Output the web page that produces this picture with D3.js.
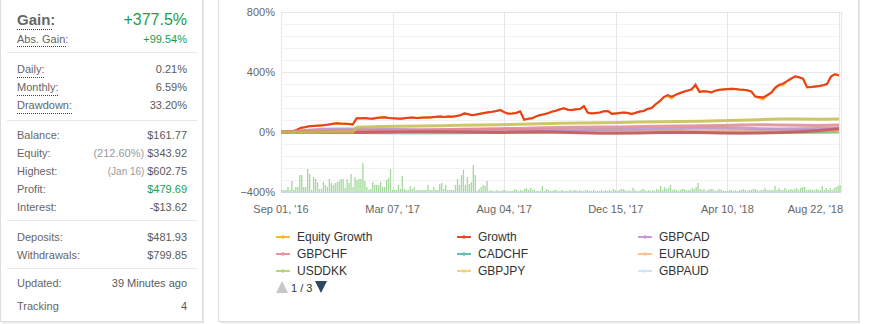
<!DOCTYPE html>
<html>
<head>
<meta charset="utf-8">
<script src="https://cdnjs.cloudflare.com/ajax/libs/d3/7.8.5/d3.min.js"></script>
<style>
  body { margin: 0; background: #fff; }
  svg { display: block; font-family: "Liberation Sans", Arial, sans-serif; }
</style>
</head>
<body>
<svg id="chart" width="869" height="324"></svg>
<script>
// x axis ticks, index of trading day
var xTickIdx = [0, 28, 56, 84, 112, 140];
var xTickLabels = ["Sep 01, '16", "Mar 07, '17", "Aug 04, '17", "Dec 15, '17", "Apr 10, '18", "Aug 22, '18"];
var yTicks = [-400, 0, 400, 800];
var yMinor = [-320, -240, -160, -80, 80, 160, 240, 320, 480, 560, 640, 720];

// growth in %, one value per trading day
var growth = [
  0, 0, 1, 3, 15, 28, 32, 38, 40, 42,
  44, 46, 50, 55, 58, 56, 55, 54, 50, 92,
  91, 93, 90, 89, 94, 96, 98, 94, 92, 90,
  88, 92, 95, 96, 93, 95, 97, 96, 99, 101,
  103, 100, 104, 102, 106, 112, 124, 118, 112, 116,
  122, 127, 131, 135, 140, 147, 132, 122, 124, 127,
  138, 82, 88, 91, 104, 113, 118, 126, 136, 142,
  152, 158, 148, 146, 151, 153, 172, 128, 124, 127,
  130, 138, 140, 121, 124, 127, 130, 127, 120, 128,
  136, 140, 154, 160, 185, 205, 232, 246, 236, 248,
  258, 268, 276, 284, 316, 268, 272, 270, 264, 276,
  281, 284, 286, 288, 286, 283, 281, 278, 270, 236,
  234, 231, 246, 262, 296, 314, 324, 340, 356, 372,
  365, 355, 298, 300, 303, 306, 312, 320, 370, 385,
  377.5
];
var equityGrowth = [
  0, 0, 1, 3, 12, 26, 32, 38, 40, 42,
  44, 46, 50, 55, 58, 56, 55, 54, 50, 92,
  91, 93, 90, 89, 94, 96, 98, 94, 92, 90,
  88, 92, 95, 96, 93, 95, 97, 96, 99, 101,
  103, 100, 104, 102, 106, 112, 124, 118, 112, 116,
  122, 127, 131, 135, 140, 147, 132, 122, 124, 127,
  138, 80, 88, 91, 104, 113, 118, 126, 136, 142,
  152, 158, 148, 146, 151, 153, 172, 128, 124, 127,
  130, 138, 140, 121, 124, 127, 130, 127, 120, 128,
  136, 140, 154, 160, 185, 205, 232, 240, 224, 248,
  258, 268, 276, 284, 308, 268, 272, 270, 264, 276,
  281, 284, 286, 288, 286, 283, 281, 278, 270, 236,
  226, 218, 246, 262, 290, 314, 313, 340, 356, 368,
  365, 355, 298, 300, 303, 306, 312, 320, 370, 385,
  377.5
];

// symbol growth, sampled on these days
var pairIdx = [0, 5, 10, 15, 18, 19, 25, 30, 35, 40, 45, 50, 55, 60, 65, 70, 75, 80, 85, 90, 95, 100, 105, 110, 115, 120, 125, 130, 135, 140];
var gbpcad = [0, 8, 18, 20, 20, 20, 18, 16, 14, 15, 16, 17, 18, 18, 16, 14, 15, 16, 18, 20, 22, 24, 27, 28, 26, 22, 20, 22, 24, 26];
var gbpchf = [0, 2, 5, 8, 9, 9, 10, 12, 14, 15, 18, 20, 22, 24, 28, 30, 32, 33, 34, 36, 38, 40, 42, 44, 46, 48, 47, 45, 44, 46];
var cadchf = [0, 1, 2, 3, 3, 3, 4, 3, 2, 1, 0, -1, 0, 1, 2, 3, 2, 1, 0, -1, -2, -1, 0, 1, 2, 1, 0, 1, 2, 3];
var euraud = [0, 0, 1, 2, 2, 2, 3, 4, 3, 2, 3, 4, 5, 4, 3, 2, 3, 4, 5, 6, 5, 4, 6, 8, 10, 12, 13, 12, 11, 12];
var usddkk = [0, 0, 0, -1, -1, -1, 0, 1, 0, -1, 0, 1, 0, -1, 0, 1, 0, -1, 0, 1, 0, -1, -2, -3, -4, -3, -2, -1, 0, 2];
var gbpjpy = [0, 0, 0, 0, 0, 32, 36, 38, 40, 42, 45, 47, 49, 51, 55, 58, 60, 62, 64, 66, 68, 70, 72, 75, 78, 82, 86, 86, 85, 86];
var gbpaud = [0, 0, -1, -2, -3, -4, -7, -9, -9, -8, -6, -4, -3, -2, -1, 0, -1, -2, -1, 0, 1, 0, -1, -2, -1, 0, 1, 0, -1, 0];
// a series from a later legend page
var pageTwoPair = [0, 0, -2, -3, -3, -3, -2, 0, 1, 2, 0, -2, -3, 0, 2, -2, -5, -8, -9, -6, -3, -2, -4, -6, -8, -7, -4, 2, 10, 22];

// trades per day (bars at the bottom)
var trades = [
  2, 2, 2, 5, 2, 11, 2, 5, 5, 17, 17, 5, 5, 23, 18, 2, 15, 13, 10, 3, 3, 10, 7, 5, 13, 9, 7, 9, 10, 11,
  13, 13, 4, 13, 9, 18, 5, 15, 12, 13, 13, 29, 11, 5, 2, 3, 10, 7, 7, 7, 10, 5, 5, 12, 14, 23, 2, 2, 2, 7,
  3, 16, 3, 2, 2, 6, 3, 5, 2, 2, 2, 2, 2, 2, 7, 2, 2, 5, 2, 2, 8, 9, 3, 7, 2, 2, 2, 2, 7, 13,
  7, 17, 22, 7, 15, 8,
  10, 27, 17, 1, 3, 5, 7, 6, 11, 1, 2, 1, 1, 2, 1, 1, 2, 2, 1, 1, 1, 1, 3, 2, 1, 2, 1, 3, 4, 2,
  4, 2, 2, 1, 1, 1, 6, 1, 3, 2, 1, 1, 2, 2, 1, 1, 2, 1, 1, 1, 2, 1, 2, 2, 1, 2, 1, 1, 2, 2,
  1, 1, 2, 1, 1, 1, 2, 1, 2, 1, 2, 1, 3, 2, 1, 2, 3, 3, 2, 1, 2, 1, 4, 2, 1, 1, 2, 3, 2, 1, 2,
  1, 2, 1, 3, 2, 6, 2, 5, 3, 4, 7, 2, 3, 2, 1, 2, 3, 3, 2, 2, 2, 4, 3, 5, 9, 3, 2, 3, 1, 2,
  3, 3, 2, 1, 2, 3, 2, 1, 1, 1, 2, 2, 1, 2, 1, 2, 2, 3, 2, 1, 2, 2, 3, 3, 2, 1, 2, 2, 4, 2,
  2, 2, 2, 6, 2, 4, 2, 2, 4, 2, 2, 3, 2, 3, 4, 2, 4, 5, 5, 2, 2, 3, 2, 2, 3, 2, 2, 6, 2, 4,
  2, 4, 2, 4, 5, 6, 7
];

var legendNames = ["Equity Growth", "Growth", "GBPCAD", "GBPCHF", "CADCHF", "EURAUD", "USDDKK", "GBPJPY", "GBPAUD"];
var legendColors = ["#f5b92b", "#e8472f", "#c79bd2", "#e8929c", "#63bdb5", "#f8bf9a", "#b9d66f", "#f3d27c", "#cfe4f6"];

// stats panel
var statGroups = [
  [["Daily:", "0.21%"], ["Monthly:", "6.59%"], ["Drawdown:", "33.20%"]],
  [["Balance:", "$161.77"], ["Equity:", "$343.92", "(212.60%)"], ["Highest:", "$602.75", "(Jan 16)"],
   ["Profit:", "$479.69"], ["Interest:", "-$13.62"]],
  [["Deposits:", "$481.93"], ["Withdrawals:", "$799.85"]]
];

var svg = d3.select("#chart");
var green = "#19a04a";

// ---- panels
function panel(x, w) {
    svg.append("rect").attr("x", x + 2).attr("y", -2).attr("width", w).attr("height", 325.5)
        .attr("fill", "#e9e9e9");
    svg.append("rect").attr("x", x + 0.5).attr("y", -2).attr("width", w).attr("height", 323.5)
        .attr("fill", "#fff").attr("stroke", "#dedede");
}
panel(0, 202);
panel(218, 640);

// ---- left stats panel
var left = svg.append("g").attr("font-size", "11px").attr("fill", "#666");
var lx = 17, rx = 187;

function underline(y, x2) {
    left.append("line").attr("x1", lx).attr("x2", x2).attr("y1", y).attr("y2", y)
        .attr("stroke", "#444").attr("stroke-dasharray", "1,1");
}
function separator(y) {
    left.append("line").attr("x1", 7).attr("x2", 197).attr("y1", y + 0.5).attr("y2", y + 0.5)
        .attr("stroke", "#e8e8e8");
}

left.append("text").attr("x", lx).attr("y", 25).attr("font-size", "15px")
    .attr("font-weight", "bold").attr("fill", "#666").text("Gain:");
underline(29.5, 53);
left.append("text").attr("x", rx).attr("y", 25).attr("text-anchor", "end")
    .attr("font-size", "16px").attr("fill", green).text("+377.5%");
left.append("text").attr("x", lx).attr("y", 43).text("Abs. Gain:");
underline(46.5, 67);
left.append("text").attr("x", rx).attr("y", 43).attr("text-anchor", "end")
    .attr("fill", green).text("+99.54%");
separator(52);

var rowStart = [73, 139, 241];
var sepAfter = [120, 220, 268];
statGroups.forEach(function(group, g) {
    group.forEach(function(row, i) {
        var ty = rowStart[g] + i * 18;
        var label = left.append("text").attr("x", lx).attr("y", ty).text(row[0]);
        if (g === 0) {
            underline(ty + 4.5, lx + label.node().getComputedTextLength());
        }
        var t = left.append("text").attr("x", rx).attr("y", ty).attr("text-anchor", "end")
            .attr("fill", row[0] === "Profit:" ? green : "#5a5a5a");
        if (row[2]) {
            t.append("tspan").attr("fill", "#9a9a9a")
                .attr("font-size", row[2].indexOf("Jan") >= 0 ? "10px" : "11px")
                .text(row[2] + " ");
        }
        t.append("tspan").text(row[1]);
    });
    separator(sepAfter[g]);
});
left.append("text").attr("x", lx).attr("y", 287).text("Updated:");
left.append("text").attr("x", rx).attr("y", 287).attr("text-anchor", "end").attr("fill", "#5a5a5a")
    .text("39 Minutes ago");
left.append("text").attr("x", lx).attr("y", 310).text("Tracking");
left.append("text").attr("x", rx).attr("y", 310).attr("text-anchor", "end").attr("fill", "#5a5a5a")
    .text("4");

// ---- chart scales
var x = d3.scaleLinear().domain([0, 140.5]).range([281, 841]);
var y = d3.scaleLinear().domain([-400, 800]).range([192, 12]);
var barX = d3.scaleLinear().domain([0, trades.length]).range([281, 841]);
var barH = d3.scaleLinear().domain([0, 60]).range([0, y(-400) - y(0)]);

var plot = svg.append("g");

// gridlines
plot.selectAll(".minor").data(yMinor).enter().append("line")
    .attr("x1", 281).attr("x2", 841)
    .attr("y1", function(d) { return Math.round(y(d)) + 0.5; })
    .attr("y2", function(d) { return Math.round(y(d)) + 0.5; })
    .attr("stroke", "#f2f2f2");
plot.selectAll(".major").data(yTicks).enter().append("line")
    .attr("x1", 281).attr("x2", 841)
    .attr("y1", function(d) { return Math.round(y(d)) + 0.5; })
    .attr("y2", function(d) { return Math.round(y(d)) + 0.5; })
    .attr("stroke", function(d) { return d === -400 ? "#ccd6eb" : "#e6e6e6"; });
plot.selectAll(".vgrid").data(xTickIdx).enter().append("line")
    .attr("x1", function(d) { return Math.round(x(d)) + 0.5; })
    .attr("x2", function(d) { return Math.round(x(d)) + 0.5; })
    .attr("y1", 12).attr("y2", 192)
    .attr("stroke", "#e6e6e6");
plot.append("line").attr("x1", 841.5).attr("x2", 841.5).attr("y1", 12).attr("y2", 192)
    .attr("stroke", "#e6e6e6");

// bars
plot.selectAll(".bar").data(trades).enter().append("rect")
    .attr("x", function(d, i) { return barX(i + 0.5) - 0.6; })
    .attr("width", 1.3)
    .attr("y", function(d) { return y(-400) - barH(d); })
    .attr("height", function(d) { return barH(d); })
    .attr("fill", "#a3d99b");

// lines
var line = d3.line()
    .x(function(d, i) { return x(i); })
    .y(function(d) { return y(d); });
var pairLine = d3.line()
    .x(function(d, i) { return x(pairIdx[i]); })
    .y(function(d) { return y(d); });

plot.append("path").attr("d", line(equityGrowth)).attr("fill", "none")
    .attr("stroke", "#f5b020").attr("stroke-width", 2.2);
plot.append("path").attr("d", line(growth)).attr("fill", "none")
    .attr("stroke", "#ea3d22").attr("stroke-width", 2);

var pairs = [
    [gbpaud, "#bcd8ef"], [cadchf, "#63bdb5"], [usddkk, "#8fc26a"], [euraud, "#f3b38b"],
    [gbpcad, "#b68fcb"], [gbpchf, "#e08890"], [pageTwoPair, "#c45660"], [gbpjpy, "#c4bd4e"]
];
pairs.forEach(function(p) {
    plot.append("path").attr("d", pairLine(p[0])).attr("fill", "none")
        .attr("stroke", p[1]).attr("stroke-width", 3).attr("stroke-opacity", 0.85);
});

// axis labels
var axisText = svg.append("g").attr("font-size", "11px").attr("fill", "#666");
axisText.selectAll(".ylab").data(yTicks).enter().append("text")
    .attr("x", 275).attr("y", function(d) { return y(d) + 4; })
    .attr("text-anchor", "end")
    .text(function(d) { return (d < 0 ? "\u2212" + (-d) : d) + "%"; });
axisText.selectAll(".xlab").data(xTickIdx).enter().append("text")
    .attr("x", function(d, i) { return i === xTickIdx.length - 1 ? 843 : x(d); })
    .attr("y", 213)
    .attr("text-anchor", function(d, i) { return i === xTickIdx.length - 1 ? "end" : "middle"; })
    .text(function(d, i) { return xTickLabels[i]; });

// ---- legend, first page only
svg.append("clipPath").attr("id", "legclip").append("rect")
    .attr("x", 260).attr("y", 225).attr("width", 560).attr("height", 50);
var legend = svg.append("g").attr("clip-path", "url(#legclip)")
    .attr("font-size", "12px").attr("fill", "#333");
var item = legend.selectAll(".item").data(legendNames).enter().append("g")
    .attr("transform", function(d, i) {
        return "translate(" + (276 + (i % 3) * 181) + "," + (237 + Math.floor(i / 3) * 17) + ")";
    });
item.append("line").attr("x1", 0).attr("x2", 14).attr("y1", 0).attr("y2", 0)
    .attr("stroke", function(d, i) { return legendColors[i]; }).attr("stroke-width", 2);
item.append("circle").attr("cx", 7).attr("cy", 0).attr("r", 1.8)
    .attr("fill", function(d, i) { return legendColors[i]; });
item.append("text").attr("x", 21).attr("y", 4).text(function(d) { return d; });

// legend pager
svg.append("path").attr("d", "M276,293 L282,281 L288,293 Z").attr("fill", "#c8c8c8");
svg.append("text").attr("x", 291).attr("y", 292).attr("font-size", "11px").attr("fill", "#333")
    .text("1 / 3");
svg.append("path").attr("d", "M315,281 L327,281 L321,293 Z").attr("fill", "#2f4664");
</script>
</body>
</html>
